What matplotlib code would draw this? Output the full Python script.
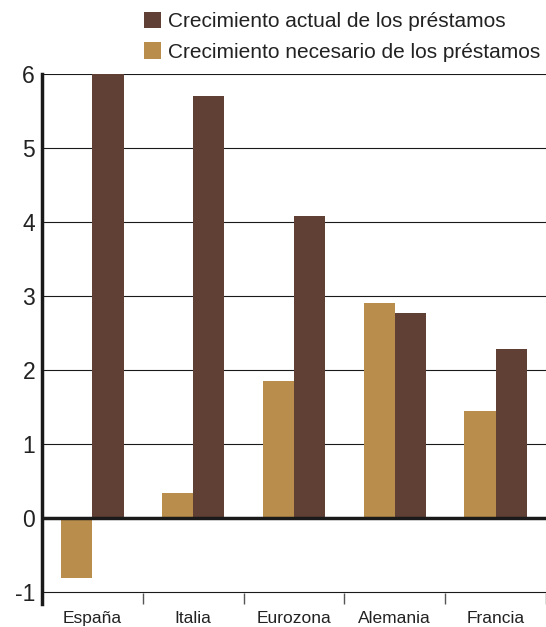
import matplotlib.pyplot as plt
import numpy as np

# Crecimiento de los préstamos (%), real frente al necesario
paises = ['España', 'Italia', 'Eurozona', 'Alemania', 'Francia']
necesario = [-0.81, 0.34, 1.85, 2.91, 1.45]
actual = [6.0, 5.70, 4.08, 2.77, 2.28]
yticks = [-1, 0, 1, 2, 3, 4, 5, 6]

color_actual = '#603f35'
color_necesario = '#b98e4c'

plt.rcParams['font.family'] = ['Liberation Sans', 'DejaVu Sans']

fig = plt.figure(figsize=(5.46, 6.27), dpi=100)
W, H = 546, 627
ax = fig.add_axes([42 / W, 1 - 604 / H, 504 / W, (604 - 74) / H])

x = np.arange(len(paises))
w = 0.31
ax.bar(x - w / 2, necesario, w, color=color_necesario, zorder=3,
       label='Crecimiento necesario de los préstamos')
ax.bar(x + w / 2, actual, w, color=color_actual, zorder=3,
       label='Crecimiento actual de los préstamos')

ax.set_xlim(-0.5, len(paises) - 0.5)
ax.set_ylim(-1.16, 6)

# rejilla horizontal fina y línea de cero gruesa
for t in yticks:
    if t == 0:
        continue
    ax.axhline(t, color='#1a1a1a', lw=0.8, zorder=1)
ax.axhline(0, color='#1a1a1a', lw=2.5, zorder=4)

for s in ['top', 'right', 'bottom']:
    ax.spines[s].set_visible(False)
ax.spines['left'].set_linewidth(2.5)
ax.spines['left'].set_color('#1a1a1a')

ax.set_yticks(yticks)
ax.set_yticklabels([str(t) for t in yticks], fontsize=16.5, color='#222222')
ax.tick_params(axis='y', length=0, pad=5)

ax.set_xticks(x)
ax.set_xticklabels(paises, fontsize=12.5, color='#222222')
ax.tick_params(axis='x', which='major', length=0, pad=5)
ax.set_xticks(np.arange(-0.5, len(paises), 1.0), minor=True)
ax.tick_params(axis='x', which='minor', direction='in', length=8,
               width=1, color='#555555')

handles, labels = ax.get_legend_handles_labels()
fig.legend(handles[::-1], labels[::-1], loc='upper left',
           bbox_to_anchor=(136 / W, 1 - 3.5 / H), frameon=False,
           fontsize=15, handlelength=0.82, handleheight=0.82,
           handletextpad=0.3, labelspacing=0.54, borderaxespad=0,
           labelcolor='#222222')

fig.savefig('out.png', dpi=100)
